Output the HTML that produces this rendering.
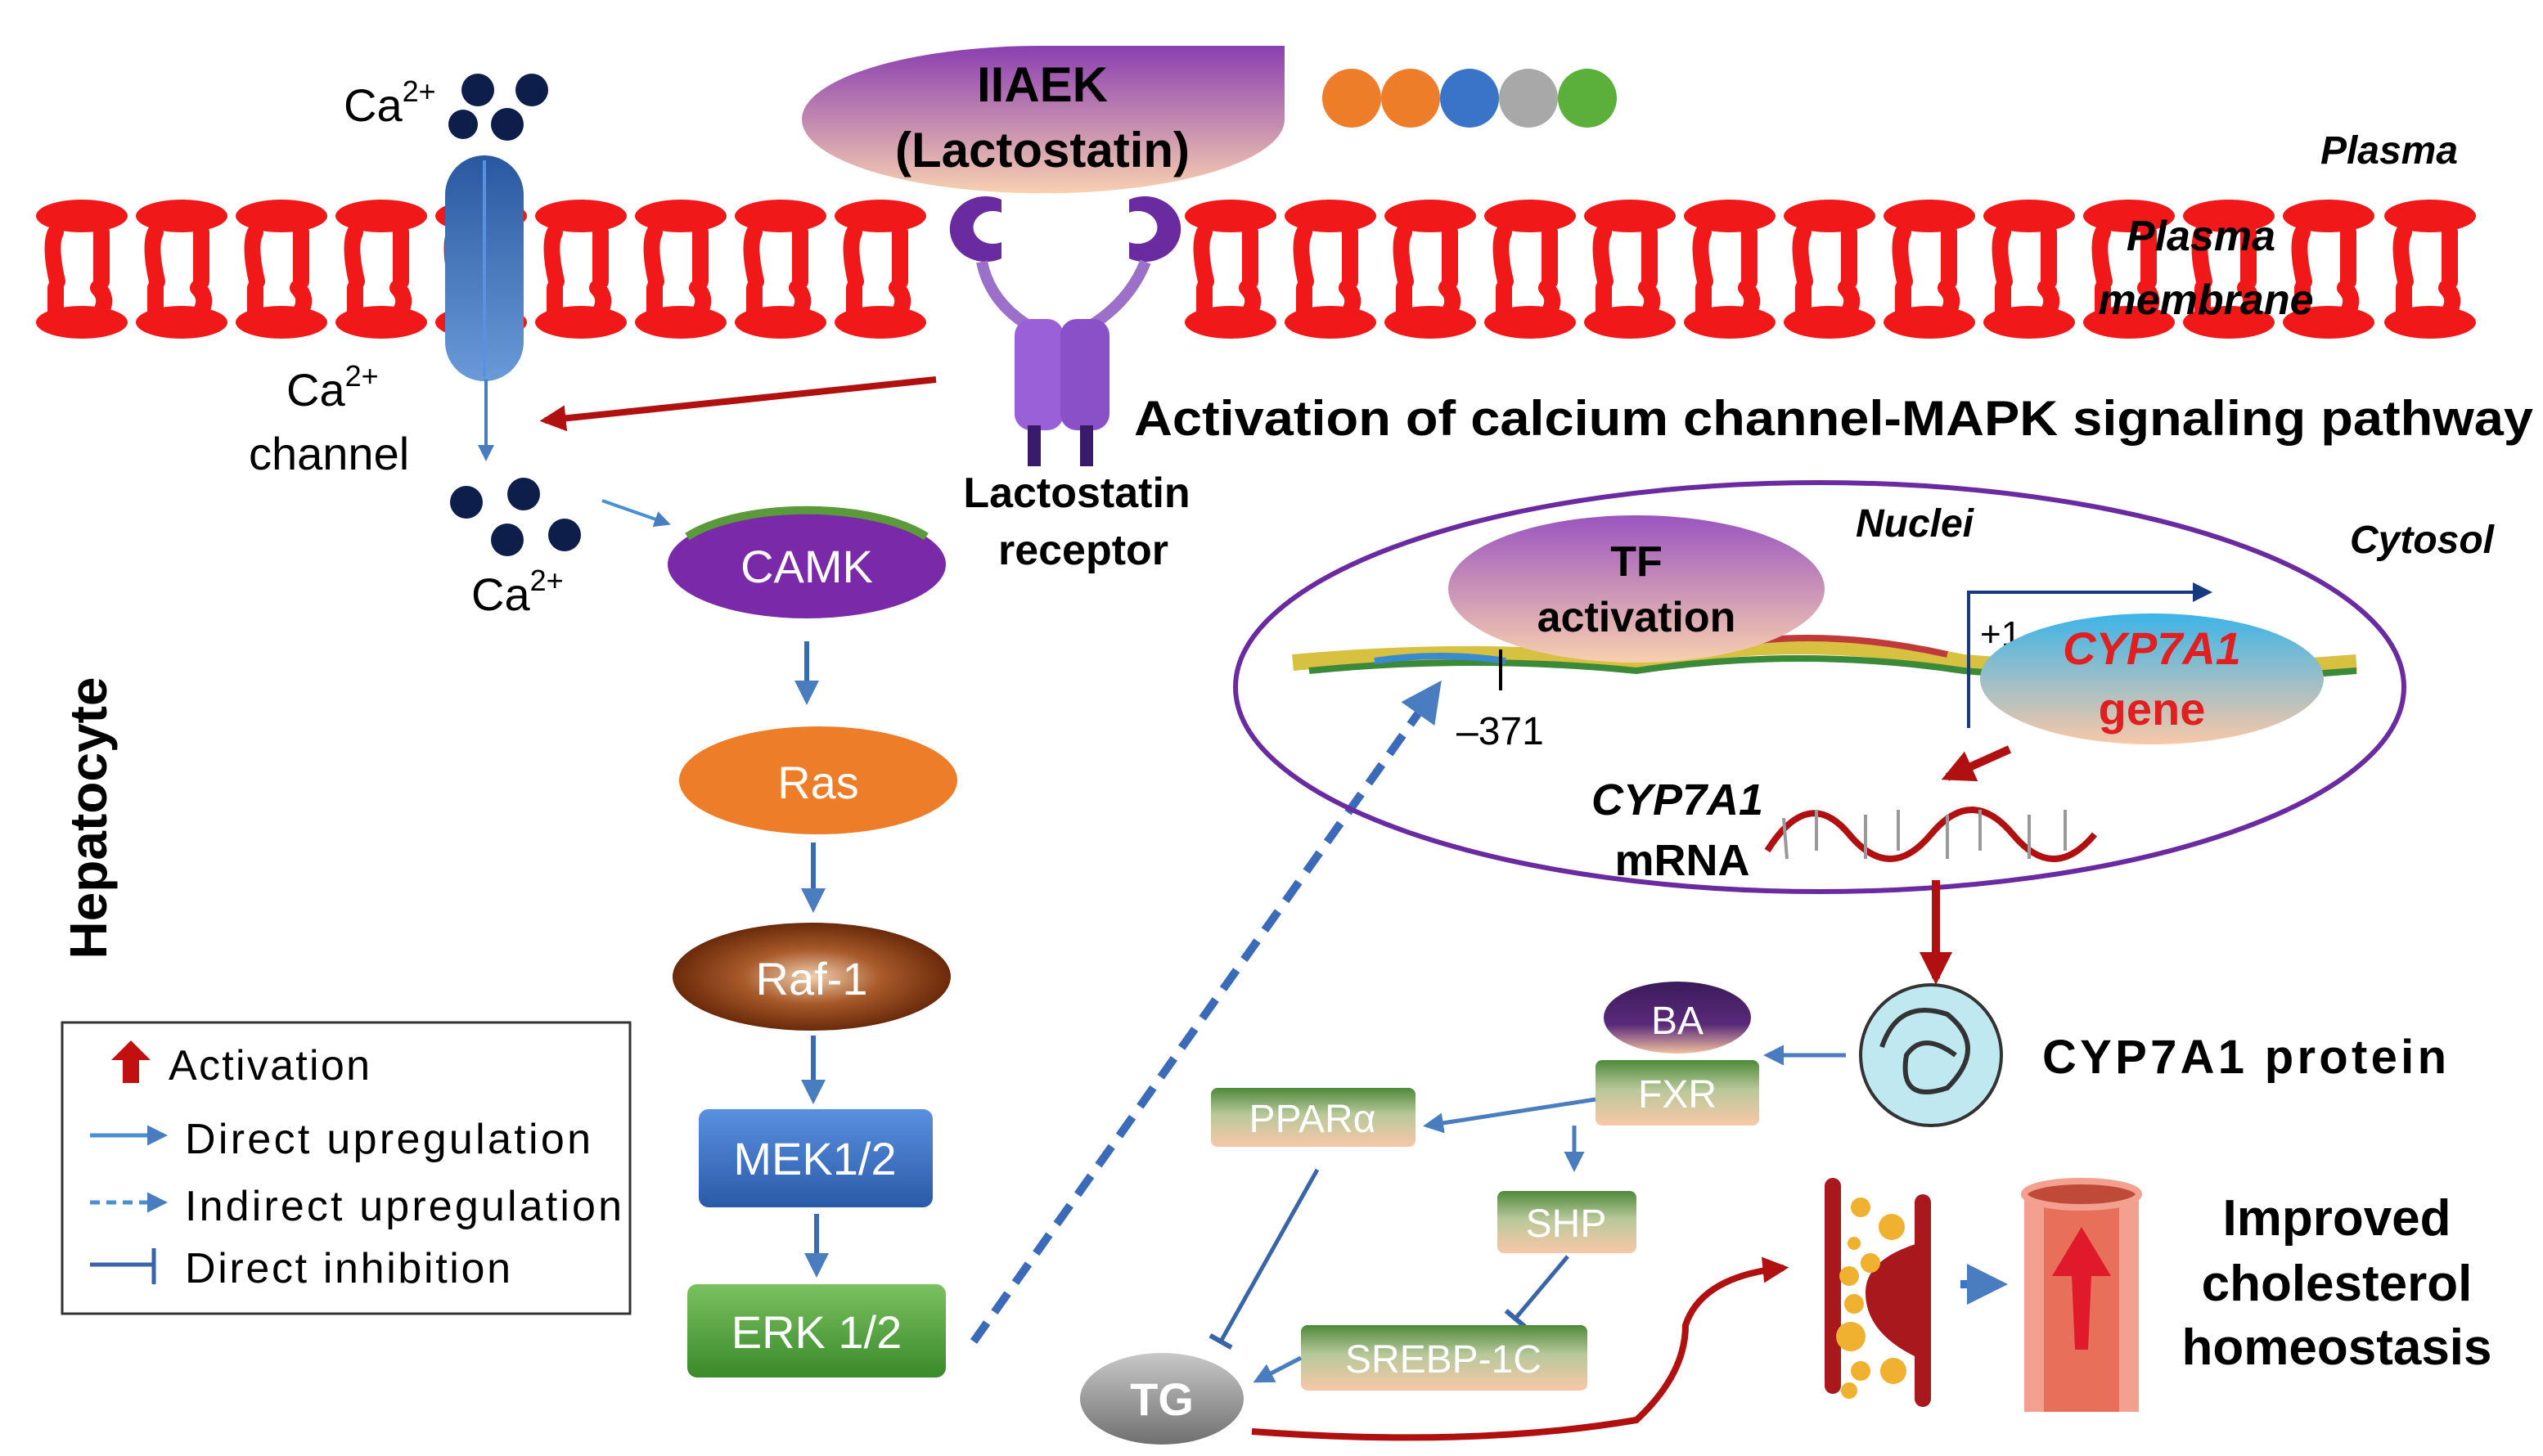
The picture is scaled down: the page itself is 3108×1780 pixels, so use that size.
<!DOCTYPE html>
<html><head><meta charset="utf-8"><style>
html,body{margin:0;padding:0;background:#fff;}
svg{display:block}
text{font-family:"Liberation Sans",sans-serif}
</style></head><body>
<svg width="3108" height="1780" viewBox="0 0 1554 890" xmlns="http://www.w3.org/2000/svg">
<defs>
<g id="lip">
<ellipse cx="0" cy="132" rx="28" ry="10" fill="#f01818"/>
<ellipse cx="0" cy="197" rx="28" ry="10" fill="#f01818"/>
<path d="M-16 142 Q-20 150 -15 172 M12 142 L12 172 M-16 176 L-16 190 M10 176 Q16 182 12 190" stroke="#f01818" stroke-width="10" stroke-linecap="round" fill="none"/>
</g>
<marker id="ab" viewBox="0 0 10 10" refX="8" refY="5" markerWidth="5" markerHeight="5" orient="auto"><path d="M0 0L10 5L0 10z" fill="#4a7cc0"/></marker>
<marker id="ar" viewBox="0 0 10 10" refX="8" refY="5" markerWidth="4" markerHeight="4" orient="auto"><path d="M0 0L10 5L0 10z" fill="#b01010"/></marker>
<marker id="bar" viewBox="0 0 10 10" refX="5" refY="5" markerWidth="6" markerHeight="6" orient="auto"><path d="M5 0L5 10" stroke="#3a64a8" stroke-width="2"/></marker>
<linearGradient id="gIIA" x1="0" y1="0" x2="0" y2="1"><stop offset="0" stop-color="#8a3fb0"/><stop offset="1" stop-color="#f8d0b0"/></linearGradient>
<linearGradient id="gTF" x1="0" y1="0" x2="0" y2="1"><stop offset="0" stop-color="#9a55c0"/><stop offset="1" stop-color="#f8cfae"/></linearGradient>
<linearGradient id="gGene" x1="0" y1="0" x2="0" y2="1"><stop offset="0" stop-color="#3cb4e8"/><stop offset="1" stop-color="#f8c8a8"/></linearGradient>
<linearGradient id="gCh" x1="0" y1="0" x2="0" y2="1"><stop offset="0" stop-color="#2a58a0"/><stop offset="1" stop-color="#6a9ad8"/></linearGradient>
<linearGradient id="gBox" x1="0" y1="0" x2="0" y2="1"><stop offset="0" stop-color="#4e8a3a"/><stop offset="0.45" stop-color="#b8c89a"/><stop offset="1" stop-color="#f8c8a8"/></linearGradient>
<linearGradient id="gMEK" x1="0" y1="0" x2="0" y2="1"><stop offset="0" stop-color="#5a90e0"/><stop offset="1" stop-color="#2a5aa8"/></linearGradient>
<linearGradient id="gERK" x1="0" y1="0" x2="0" y2="1"><stop offset="0" stop-color="#7ac060"/><stop offset="1" stop-color="#3a8a2a"/></linearGradient>
<radialGradient id="gRaf"><stop offset="0" stop-color="#f0d0b0"/><stop offset="0.5" stop-color="#a85a2a"/><stop offset="1" stop-color="#6a2a0a"/></radialGradient>
<linearGradient id="gTG" x1="0" y1="0" x2="0" y2="1"><stop offset="0" stop-color="#c8c8c8"/><stop offset="1" stop-color="#707070"/></linearGradient>
<linearGradient id="gBA" x1="0" y1="0" x2="0" y2="1"><stop offset="0" stop-color="#3a1a5a"/><stop offset="0.6" stop-color="#5a2a7a"/><stop offset="1" stop-color="#f0c0a0"/></linearGradient>
</defs>

<g>
<use href="#lip" x="50"/><use href="#lip" x="111"/><use href="#lip" x="172"/><use href="#lip" x="233"/><use href="#lip" x="294"/><use href="#lip" x="355"/><use href="#lip" x="416"/><use href="#lip" x="477"/><use href="#lip" x="538"/>
<use href="#lip" x="752"/><use href="#lip" x="813"/><use href="#lip" x="874"/><use href="#lip" x="935"/><use href="#lip" x="996"/><use href="#lip" x="1057"/><use href="#lip" x="1118"/><use href="#lip" x="1179"/><use href="#lip" x="1240"/><use href="#lip" x="1301"/><use href="#lip" x="1362"/><use href="#lip" x="1423"/><use href="#lip" x="1485"/>
</g>

<rect x="272" y="95" width="48" height="138" rx="24" fill="url(#gCh)"/>
<line x1="296" y1="98" x2="296" y2="230" stroke="#5a90e0" stroke-width="2"/>
<line x1="297" y1="232" x2="297" y2="280" stroke="#4a7cc0" stroke-width="2" marker-end="url(#ab)"/>
<g fill="#0e1e4a"><circle cx="292" cy="55" r="10"/><circle cx="325" cy="55" r="10"/><circle cx="310" cy="76" r="10"/><circle cx="283" cy="76" r="9"/></g>
<text x="210" y="74" font-size="28">Ca<tspan font-size="18" dy="-12">2+</tspan></text>
<text x="175" y="248" font-size="28">Ca<tspan font-size="18" dy="-12">2+</tspan></text>
<text x="152" y="287" font-size="28">channel</text>
<g fill="#0e1e4a"><circle cx="285" cy="307" r="10"/><circle cx="320" cy="302" r="10"/><circle cx="310" cy="330" r="10"/><circle cx="345" cy="327" r="10"/></g>
<text x="288" y="373" font-size="28">Ca<tspan font-size="18" dy="-12">2+</tspan></text>
<line x1="368" y1="306" x2="408" y2="320" stroke="#4a90d0" stroke-width="2" marker-end="url(#ab)"/>

<path d="M490 73 A147 45 0 0 1 637 28 L785 28 L785 73 A147 45 0 0 1 490 73Z" fill="url(#gIIA)"/>
<text x="637" y="62" font-size="30" font-weight="bold" text-anchor="middle">IIAEK</text>
<text x="637" y="102" font-size="30" font-weight="bold" text-anchor="middle">(Lactostatin)</text>
<circle cx="826" cy="60" r="18" fill="#ee7d2a"/><circle cx="862" cy="60" r="18" fill="#ee7d2a"/><circle cx="898" cy="60" r="18" fill="#3a74c8"/><circle cx="934" cy="60" r="18" fill="#a8a8a8"/><circle cx="970" cy="60" r="18" fill="#5ab03a"/>

<path d="M612 122 A22 20 0 1 0 612 158 L612 148 A12 10 0 1 1 612 130Z" fill="#6a2aa0"/>
<path d="M690 122 A22 20 0 1 1 690 158 L690 148 A12 10 0 1 0 690 130Z" fill="#6a2aa0"/>
<path d="M600 160 Q605 185 630 200 M700 160 Q690 185 665 200" stroke="#9a70c8" stroke-width="7" fill="none"/>
<rect x="620" y="195" width="30" height="68" rx="10" fill="#9a60d8"/>
<rect x="648" y="195" width="30" height="68" rx="10" fill="#8a50c8"/>
<rect x="628" y="260" width="8" height="25" fill="#3a1a6a"/><rect x="660" y="260" width="8" height="25" fill="#3a1a6a"/>
<text x="658" y="310" font-size="26" font-weight="bold" text-anchor="middle">Lactostatin</text>
<text x="662" y="345" font-size="26" font-weight="bold" text-anchor="middle">receptor</text>
<line x1="572" y1="232" x2="333" y2="257" stroke="#b01010" stroke-width="4" marker-end="url(#ar)"/>
<text x="693" y="266" font-size="30" font-weight="bold" textLength="855" lengthAdjust="spacingAndGlyphs">Activation of calcium channel-MAPK signaling pathway</text>
<text x="1460" y="100" font-size="24" font-weight="bold" font-style="italic" text-anchor="middle">Plasma</text>
<text x="1345" y="153" font-size="26" font-weight="bold" font-style="italic" text-anchor="middle">Plasma</text>
<text x="1348" y="192" font-size="26" font-weight="bold" font-style="italic" text-anchor="middle">membrane</text>

<ellipse cx="493" cy="345" rx="85" ry="33" fill="#7a2aa8"/>
<path d="M420 328 A85 33 0 0 1 566 328" stroke="#5a9a3a" stroke-width="5" fill="none"/>
<text x="493" y="356" font-size="28" fill="#fff" text-anchor="middle">CAMK</text>
<line x1="493" y1="392" x2="493" y2="428" stroke="#3a6ab0" stroke-width="3" marker-end="url(#ab)"/>
<ellipse cx="500" cy="477" rx="85" ry="33" fill="#ee7d2a"/>
<text x="500" y="488" font-size="28" fill="#fff" text-anchor="middle">Ras</text>
<line x1="497" y1="515" x2="497" y2="555" stroke="#3a6ab0" stroke-width="3" marker-end="url(#ab)"/>
<ellipse cx="496" cy="597" rx="85" ry="33" fill="url(#gRaf)"/>
<text x="496" y="608" font-size="28" fill="#fff" text-anchor="middle">Raf-1</text>
<line x1="497" y1="633" x2="497" y2="672" stroke="#3a6ab0" stroke-width="3" marker-end="url(#ab)"/>
<rect x="427" y="678" width="143" height="60" rx="6" fill="url(#gMEK)"/>
<text x="498" y="718" font-size="28" fill="#fff" text-anchor="middle">MEK1/2</text>
<line x1="499" y1="742" x2="499" y2="778" stroke="#3a6ab0" stroke-width="3" marker-end="url(#ab)"/>
<rect x="420" y="785" width="158" height="57" rx="6" fill="url(#gERK)"/>
<text x="499" y="824" font-size="28" fill="#fff" text-anchor="middle">ERK 1/2</text>
<line x1="595" y1="820" x2="878" y2="420" stroke="#3a6ab8" stroke-width="5" stroke-dasharray="14 8" marker-end="url(#ab)"/>

<text transform="translate(65,500) rotate(-90)" font-size="32" font-weight="bold" text-anchor="middle">Hepatocyte</text>

<rect x="38" y="625" width="347" height="178" fill="none" stroke="#333" stroke-width="1.5"/>
<path d="M80 636 L92 648 L85 648 L85 662 L75 662 L75 648 L68 648Z" fill="#c01010"/>
<text x="103" y="660" font-size="26" textLength="123">Activation</text>
<line x1="55" y1="694" x2="100" y2="694" stroke="#4a90d0" stroke-width="2.5" marker-end="url(#ab)"/>
<text x="113" y="705" font-size="26" textLength="248">Direct upregulation</text>
<line x1="55" y1="735" x2="100" y2="735" stroke="#4a90d0" stroke-width="2.5" stroke-dasharray="6 4" marker-end="url(#ab)"/>
<text x="113" y="746" font-size="26" textLength="267">Indirect upregulation</text>
<line x1="55" y1="773" x2="93" y2="773" stroke="#3a64a8" stroke-width="2.5"/><line x1="94" y1="763" x2="94" y2="785" stroke="#3a64a8" stroke-width="2.5"/>
<text x="113" y="784" font-size="26" textLength="199">Direct inhibition</text>

<ellipse cx="1112" cy="420" rx="357" ry="125" fill="none" stroke="#6a2aa0" stroke-width="3"/>
<path d="M790 405 Q900 395 1000 405 Q1100 385 1200 405 Q1320 415 1440 405" stroke="#d8c040" stroke-width="10" fill="none"/>
<path d="M800 410 Q900 400 1000 410 Q1100 395 1200 410 Q1320 420 1440 410" stroke="#3a8a3a" stroke-width="4" fill="none"/>
<path d="M1030 400 Q1100 380 1190 400" stroke="#c03a3a" stroke-width="4" fill="none"/>
<path d="M840 404 Q880 398 920 404" stroke="#3a8ad0" stroke-width="4" fill="none"/>
<ellipse cx="1000" cy="360" rx="115" ry="45" fill="url(#gTF)"/>
<text x="1000" y="352" font-size="26" font-weight="bold" text-anchor="middle">TF</text>
<text x="1000" y="386" font-size="26" font-weight="bold" text-anchor="middle">activation</text>
<line x1="917" y1="397" x2="917" y2="422" stroke="#000" stroke-width="2"/>
<text x="890" y="455" font-size="24">–371</text>
<path d="M1203 445 L1203 362 L1345 362" stroke="#1a3a80" stroke-width="2" fill="none"/>
<path d="M1340 356 L1352 362 L1340 368Z" fill="#1a3a80"/>
<text x="1210" y="395" font-size="22">+1</text>
<ellipse cx="1315" cy="415" rx="105" ry="40" fill="url(#gGene)"/>
<text x="1315" y="406" font-size="28" font-weight="bold" font-style="italic" fill="#e02020" text-anchor="middle">CYP7A1</text>
<text x="1315" y="443" font-size="28" font-weight="bold" fill="#e02020" text-anchor="middle">gene</text>
<text x="1170" y="328" font-size="24" font-weight="bold" font-style="italic" text-anchor="middle">Nuclei</text>
<text x="1480" y="338" font-size="24" font-weight="bold" font-style="italic" text-anchor="middle">Cytosol</text>
<line x1="1228" y1="458" x2="1190" y2="475" stroke="#b01010" stroke-width="5" marker-end="url(#ar)"/>
<text x="1025" y="498" font-size="27" font-weight="bold" font-style="italic" text-anchor="middle">CYP7A1</text>
<text x="1028" y="535" font-size="27" font-weight="bold" text-anchor="middle">mRNA</text>
<path d="M1080 520 Q1105 480 1130 510 T1180 510 T1230 510 T1280 510" stroke="#b01010" stroke-width="4" fill="none"/>
<path d="M1090 500 L1092 525 M1110 495 L1110 520 M1140 498 L1140 525 M1160 495 L1160 520 M1190 498 L1190 525 M1210 495 L1210 520 M1240 498 L1240 525 M1262 495 L1262 520" stroke="#999" stroke-width="2"/>
<line x1="1183" y1="538" x2="1183" y2="598" stroke="#b01010" stroke-width="5" marker-end="url(#ar)"/>

<circle cx="1180" cy="645" r="43" fill="#bfe8f0" stroke="#333" stroke-width="2"/>
<path d="M1150 640 Q1160 610 1190 620 Q1215 640 1190 665 Q1160 675 1165 645 Q1175 630 1195 645" stroke="#333" stroke-width="3" fill="none"/>
<text x="1248" y="656" font-size="29" font-weight="bold" textLength="247">CYP7A1 protein</text>
<line x1="1128" y1="645" x2="1080" y2="645" stroke="#4a7cc0" stroke-width="2.5" marker-end="url(#ab)"/>
<ellipse cx="1025" cy="622" rx="45" ry="22" fill="url(#gBA)"/>
<text x="1025" y="632" font-size="24" fill="#fff" text-anchor="middle">BA</text>
<rect x="975" y="648" width="100" height="40" rx="4" fill="url(#gBox)"/>
<text x="1025" y="677" font-size="24" fill="#fff" text-anchor="middle">FXR</text>
<line x1="975" y1="672" x2="872" y2="688" stroke="#4a7cc0" stroke-width="2.5" marker-end="url(#ab)"/>
<rect x="740" y="665" width="125" height="36" rx="4" fill="url(#gBox)"/>
<text x="802" y="692" font-size="24" fill="#fff" text-anchor="middle">PPARα</text>
<line x1="962" y1="688" x2="962" y2="714" stroke="#4a7cc0" stroke-width="2.5" marker-end="url(#ab)"/>
<rect x="915" y="728" width="85" height="38" rx="4" fill="url(#gBox)"/>
<text x="957" y="756" font-size="24" fill="#fff" text-anchor="middle">SHP</text>
<line x1="958" y1="768" x2="926" y2="806" stroke="#3a64a8" stroke-width="2.5" marker-end="url(#bar)"/>
<line x1="805" y1="715" x2="746" y2="820" stroke="#3a64a8" stroke-width="2.5" marker-end="url(#bar)"/>
<rect x="795" y="810" width="175" height="40" rx="4" fill="url(#gBox)"/>
<text x="882" y="839" font-size="24" fill="#fff" text-anchor="middle">SREBP-1C</text>
<line x1="795" y1="830" x2="768" y2="844" stroke="#4a7cc0" stroke-width="2.5" marker-end="url(#ab)"/>
<ellipse cx="710" cy="855" rx="50" ry="28" fill="url(#gTG)"/>
<text x="710" y="865" font-size="28" font-weight="bold" fill="#fff" text-anchor="middle">TG</text>
<path d="M765 875 Q900 885 1000 868 Q1030 840 1030 810 Q1040 780 1090 775" stroke="#b01010" stroke-width="4" fill="none" marker-end="url(#ar)"/>

<rect x="1115" y="720" width="10" height="132" rx="5" fill="#a8181c"/>
<rect x="1170" y="730" width="10" height="130" rx="5" fill="#a8181c"/>
<path d="M1172 760 Q1140 770 1140 790 Q1140 815 1172 830Z" fill="#a8181c"/>
<g fill="#f0b030"><circle cx="1137" cy="738" r="6"/><circle cx="1156" cy="750" r="8"/><circle cx="1133" cy="760" r="4"/><circle cx="1143" cy="772" r="6"/><circle cx="1130" cy="780" r="6"/><circle cx="1133" cy="797" r="6"/><circle cx="1131" cy="817" r="9"/><circle cx="1137" cy="838" r="6"/><circle cx="1157" cy="838" r="8"/><circle cx="1130" cy="850" r="5"/></g>
<line x1="1198" y1="785" x2="1222" y2="785" stroke="#3a74c8" stroke-width="5" marker-end="url(#ab)"/>
<rect x="1237" y="728" width="70" height="135" fill="#e8705a"/>
<rect x="1237" y="728" width="12" height="135" fill="#f4a090"/>
<rect x="1295" y="728" width="12" height="135" fill="#f4a090"/>
<ellipse cx="1272" cy="730" rx="35" ry="8" fill="#c04a3a" stroke="#f4a090" stroke-width="4"/>
<path d="M1272 750 L1290 780 L1278 780 L1276 825 L1268 825 L1266 780 L1254 780Z" fill="#e01a2a"/>
<text x="1428" y="755" font-size="31" font-weight="bold" text-anchor="middle">Improved</text>
<text x="1428" y="795" font-size="31" font-weight="bold" text-anchor="middle">cholesterol</text>
<text x="1428" y="834" font-size="31" font-weight="bold" text-anchor="middle">homeostasis</text>
</svg>
</body></html>
